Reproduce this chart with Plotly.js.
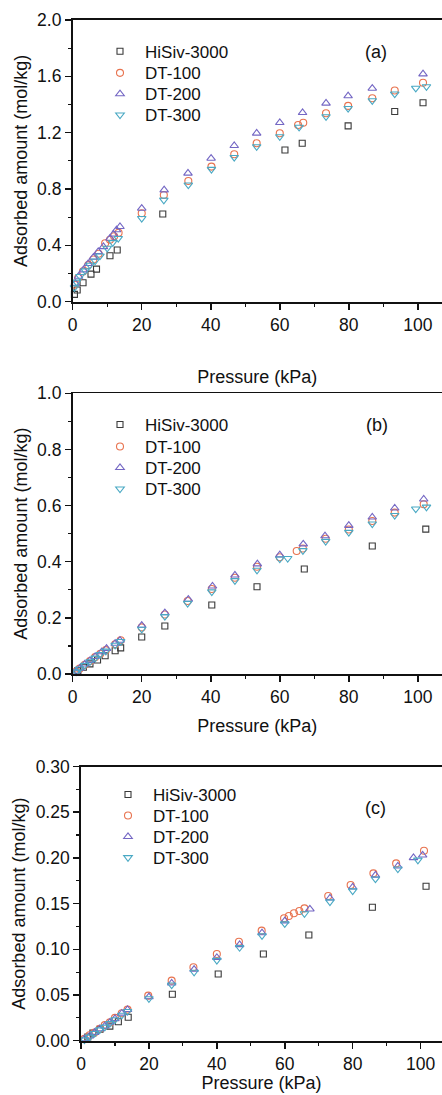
<!DOCTYPE html>
<html>
<head>
<meta charset="utf-8">
<script src="https://cdn.plot.ly/plotly-3.0.1.min.js"></script>
<style>html,body{margin:0;padding:0;background:#fff;}#chart{width:442px;height:1095px;}</style>
</head>
<body>
<div id="chart"></div>
<script>
// ---------- data ----------
const seriesNames = ["HiSiv-3000", "DT-100", "DT-200", "DT-300"];
const panelLabels = ["(a)", "(b)", "(c)"];
const xTitle = "Pressure (kPa)";
const yTitle = "Adsorbed amount (mol/kg)";

// Panel (a)
const a_hisiv_p = [0.5, 1.3, 3.0, 5.3, 6.9, 10.8, 12.9, 26.1, 61.5, 66.5, 79.8, 93.3, 101.5];
const a_hisiv_q = [0.052, 0.083, 0.135, 0.196, 0.231, 0.326, 0.367, 0.623, 1.077, 1.125, 1.248, 1.350, 1.413];
const a_dt100_p = [0.6, 1.6, 3.0, 4.5, 6.0, 7.5, 9.4, 10.8, 12.0, 13.3, 20.0, 26.4, 33.5, 40.2, 46.8, 53.3, 60.0, 65.3, 66.8, 73.4, 79.8, 86.8, 93.3, 101.5];
const a_dt100_q = [0.12, 0.17, 0.215, 0.26, 0.30, 0.34, 0.415, 0.44, 0.465, 0.49, 0.628, 0.758, 0.857, 0.959, 1.047, 1.125, 1.196, 1.255, 1.271, 1.338, 1.390, 1.444, 1.499, 1.555];
const a_dt200_p = [0.8, 1.7, 3.1, 4.5, 6.0, 7.4, 8.9, 10.8, 11.8, 12.7, 13.7, 20.0, 26.5, 33.4, 40.1, 46.8, 53.3, 60.0, 66.6, 73.4, 79.8, 86.8, 101.5];
const a_dt200_q = [0.13, 0.18, 0.225, 0.27, 0.315, 0.355, 0.39, 0.45, 0.48, 0.51, 0.533, 0.663, 0.793, 0.912, 1.018, 1.108, 1.196, 1.271, 1.342, 1.409, 1.461, 1.515, 1.617];
const a_dt300_p = [0.5, 1.1, 2.1, 3.6, 5.0, 6.5, 7.9, 10.0, 11.6, 13.2, 20.0, 26.4, 33.5, 40.2, 46.8, 53.3, 60.0, 65.6, 73.4, 79.8, 86.8, 93.3, 99.4, 102.5];
const a_dt300_q = [0.10, 0.14, 0.18, 0.22, 0.26, 0.29, 0.325, 0.38, 0.42, 0.45, 0.592, 0.722, 0.829, 0.940, 1.025, 1.101, 1.172, 1.239, 1.314, 1.373, 1.428, 1.475, 1.516, 1.527];

// Panel (b)
const b_hisiv_p = [1.5, 3.1, 5.0, 7.2, 9.4, 12.3, 13.9, 20.0, 26.7, 40.3, 53.4, 67.1, 86.8, 102.3];
const b_hisiv_q = [0.012, 0.024, 0.036, 0.050, 0.065, 0.083, 0.093, 0.132, 0.171, 0.246, 0.311, 0.374, 0.456, 0.516];
const b_dt100_p = [1.0, 2.0, 3.5, 5.0, 6.5, 8.0, 9.6, 12.3, 13.9, 20.0, 26.7, 33.3, 40.3, 47.0, 53.4, 60.0, 64.9, 66.7, 73.3, 80.0, 86.8, 93.3, 101.7];
const b_dt100_q = [0.009, 0.019, 0.033, 0.046, 0.060, 0.072, 0.085, 0.106, 0.120, 0.166, 0.212, 0.260, 0.303, 0.343, 0.382, 0.416, 0.438, 0.447, 0.482, 0.515, 0.545, 0.575, 0.605];
const b_dt200_p = [1.0, 2.0, 3.5, 5.0, 6.5, 8.4, 9.8, 12.3, 13.7, 20.0, 26.7, 33.5, 40.5, 47.0, 53.5, 60.0, 66.8, 73.1, 80.0, 86.8, 93.3, 101.7];
const b_dt200_q = [0.010, 0.020, 0.035, 0.048, 0.062, 0.079, 0.091, 0.109, 0.120, 0.173, 0.218, 0.266, 0.313, 0.352, 0.392, 0.424, 0.463, 0.492, 0.529, 0.559, 0.591, 0.623];
const b_dt300_p = [1.0, 2.0, 3.5, 5.0, 6.5, 8.0, 9.6, 12.3, 13.9, 20.0, 26.7, 33.3, 40.3, 47.0, 53.4, 60.0, 62.3, 66.7, 73.3, 80.0, 86.8, 93.3, 99.4, 102.5];
const b_dt300_q = [0.008, 0.018, 0.031, 0.044, 0.057, 0.070, 0.082, 0.103, 0.116, 0.160, 0.205, 0.252, 0.293, 0.333, 0.370, 0.410, 0.412, 0.440, 0.473, 0.505, 0.535, 0.565, 0.588, 0.595];

// Panel (c)
const c_hisiv_p = [2.0, 3.5, 5.6, 8.5, 11.0, 13.9, 26.9, 40.4, 53.7, 67.1, 85.8, 101.6];
const c_hisiv_q = [0.004, 0.0085, 0.0125, 0.016, 0.0208, 0.0256, 0.0508, 0.073, 0.0949, 0.1157, 0.146, 0.169];
const c_dt100_p = [1.0, 2.5, 4.0, 5.5, 7.0, 8.5, 10.0, 12.0, 13.7, 19.8, 26.7, 33.1, 40.0, 46.5, 53.2, 59.8, 61.2, 62.7, 64.3, 65.8, 72.8, 79.4, 86.1, 92.8, 101.0];
const c_dt100_q = [0.002, 0.006, 0.009, 0.013, 0.017, 0.020, 0.025, 0.030, 0.034, 0.0493, 0.0657, 0.0803, 0.0949, 0.1083, 0.1204, 0.1339, 0.1364, 0.1394, 0.1419, 0.1448, 0.1583, 0.1703, 0.1831, 0.1940, 0.2079];
const c_dt200_p = [1.0, 2.5, 4.0, 5.5, 7.0, 8.5, 10.0, 12.0, 13.7, 20.0, 26.7, 33.3, 40.0, 46.7, 53.3, 60.0, 67.4, 73.3, 80.0, 86.7, 93.3, 97.9, 100.6];
const c_dt200_q = [0.002, 0.005, 0.009, 0.013, 0.016, 0.020, 0.024, 0.030, 0.034, 0.048, 0.063, 0.078, 0.091, 0.105, 0.118, 0.131, 0.144, 0.156, 0.168, 0.181, 0.191, 0.2002, 0.203];
const c_dt300_p = [1.0, 2.5, 4.0, 5.5, 7.0, 8.5, 10.0, 12.0, 13.7, 20.0, 26.7, 33.3, 40.0, 46.7, 53.3, 60.0, 65.8, 73.3, 80.0, 86.7, 93.3, 99.2];
const c_dt300_q = [0.001, 0.004, 0.008, 0.012, 0.015, 0.019, 0.023, 0.028, 0.032, 0.046, 0.061, 0.075, 0.088, 0.102, 0.115, 0.128, 0.139, 0.152, 0.164, 0.177, 0.188, 0.1977];

// ---------- styles ----------
const colors = ["#3a3a3a", "#e8734f", "#7467c4", "#4aa9c4"];
const symbols = ["square-open", "circle-open", "triangle-up-open", "triangle-down-open"];
const sizes = [6, 7, 7.5, 7.5];

const W = 442, H = 1095;
const panels = [
  {x: [a_hisiv_p, a_dt100_p, a_dt200_p, a_dt300_p], y: [a_hisiv_q, a_dt100_q, a_dt200_q, a_dt300_q]},
  {x: [b_hisiv_p, b_dt100_p, b_dt200_p, b_dt300_p], y: [b_hisiv_q, b_dt100_q, b_dt200_q, b_dt300_q]},
  {x: [c_hisiv_p, c_dt100_p, c_dt200_p, c_dt300_p], y: [c_hisiv_q, c_dt100_q, c_dt200_q, c_dt300_q]}
];
// pixel geometry of each panel
const geom = [
  {left: 72.7, top: 20, bottom: 301.7, xmax: 107, yrange: [0, 2.0], dtick: 0.4, minor: 0.2, fmt: ".1f",
   rows: [51.7, 73.3, 94.3, 115.3], legLeft: 95, labX: 376, labY: 51.7, standoff: 37},
  {left: 72.7, top: 393.3, bottom: 674, xmax: 107, yrange: [0, 1.0], dtick: 0.2, minor: 0.1, fmt: ".1f",
   rows: [425, 447, 468, 489.3], legLeft: 95, labX: 377, labY: 425, standoff: 14},
  {left: 81, top: 766.5, bottom: 1040.7, xmax: 106.3, yrange: [0, 0.30], dtick: 0.05, minor: 0.025, fmt: ".2f",
   rows: [795, 816, 837, 858], legLeft: 103, labX: 375, labY: 808, standoff: 0}
];

const font = "Liberation Sans, Arial, sans-serif";
const traces = [];
const layout = {
  width: W, height: H,
  margin: {l: 0, r: 0, t: 0, b: 0},
  paper_bgcolor: "#fff", plot_bgcolor: "#fff",
  font: {family: font, size: 17, color: "#111"},
  showlegend: true,
  annotations: []
};

let legIdx = 0;
panels.forEach((pn, i) => {
  const g = geom[i];
  const xa = i === 0 ? "x" : "x" + (i + 1);
  const ya = i === 0 ? "y" : "y" + (i + 1);
  for (let s = 0; s < 4; s++) {
    legIdx++;
    const lg = legIdx === 1 ? "legend" : "legend" + legIdx;
    traces.push({
      type: "scatter", mode: "markers",
      x: pn.x[s], y: pn.y[s], name: seriesNames[s],
      xaxis: xa, yaxis: ya, legend: lg,
      marker: {symbol: symbols[s], color: colors[s], size: sizes[s], line: {width: 1.1, color: colors[s]}},
      cliponaxis: false
    });
    layout[lg] = {
      x: g.legLeft / W, y: 1 - (g.rows[s] - 18) / H, xanchor: "left", yanchor: "top",
      xref: "paper", yref: "paper",
      bgcolor: "rgba(0,0,0,0)", borderwidth: 0, itemwidth: 40,
      font: {size: 17, family: font, color: "#111"},
      itemsizing: "trace"
    };
  }
  const xkey = i === 0 ? "xaxis" : "xaxis" + (i + 1);
  const ykey = i === 0 ? "yaxis" : "yaxis" + (i + 1);
  layout[xkey] = {
    domain: [g.left / W, 1], anchor: ya, range: [0, g.xmax],
    tick0: 0, dtick: 20, ticks: "outside", ticklen: 6, tickwidth: 1.5, tickcolor: "#111",
    minor: {dtick: 10, ticks: "outside", ticklen: 3, tickwidth: 1.2, tickcolor: "#111"},
    showline: true, linecolor: "#111", linewidth: 1.8, mirror: true,
    showgrid: false, zeroline: false, automargin: false,
    tickfont: {size: 17.5, family: font, color: "#111"},
    title: {text: xTitle, font: {size: 18, family: font, color: "#111"}, standoff: g.standoff}
  };
  layout[ykey] = {
    domain: [1 - g.bottom / H, 1 - g.top / H], anchor: xa, range: g.yrange,
    tick0: 0, dtick: g.dtick, tickformat: g.fmt, ticks: "outside", ticklen: 6, tickwidth: 1.5, tickcolor: "#111",
    minor: {dtick: g.minor, ticks: "outside", ticklen: 3, tickwidth: 1.2, tickcolor: "#111"},
    showline: true, linecolor: "#111", linewidth: 1.8, mirror: false,
    showgrid: false, zeroline: false, automargin: false,
    tickfont: {size: 17.5, family: font, color: "#111"},
    title: {text: yTitle, font: {size: 18, family: font, color: "#111"}, standoff: 5}
  };
  layout.annotations.push({
    xref: "paper", yref: "paper", x: g.labX / W, y: 1 - g.labY / H,
    xanchor: "center", yanchor: "middle", showarrow: false,
    text: panelLabels[i], font: {size: 18, family: font, color: "#111"}
  });
});

Plotly.newPlot("chart", traces, layout, {staticPlot: true, displayModeBar: false});
</script>
</body>
</html>
